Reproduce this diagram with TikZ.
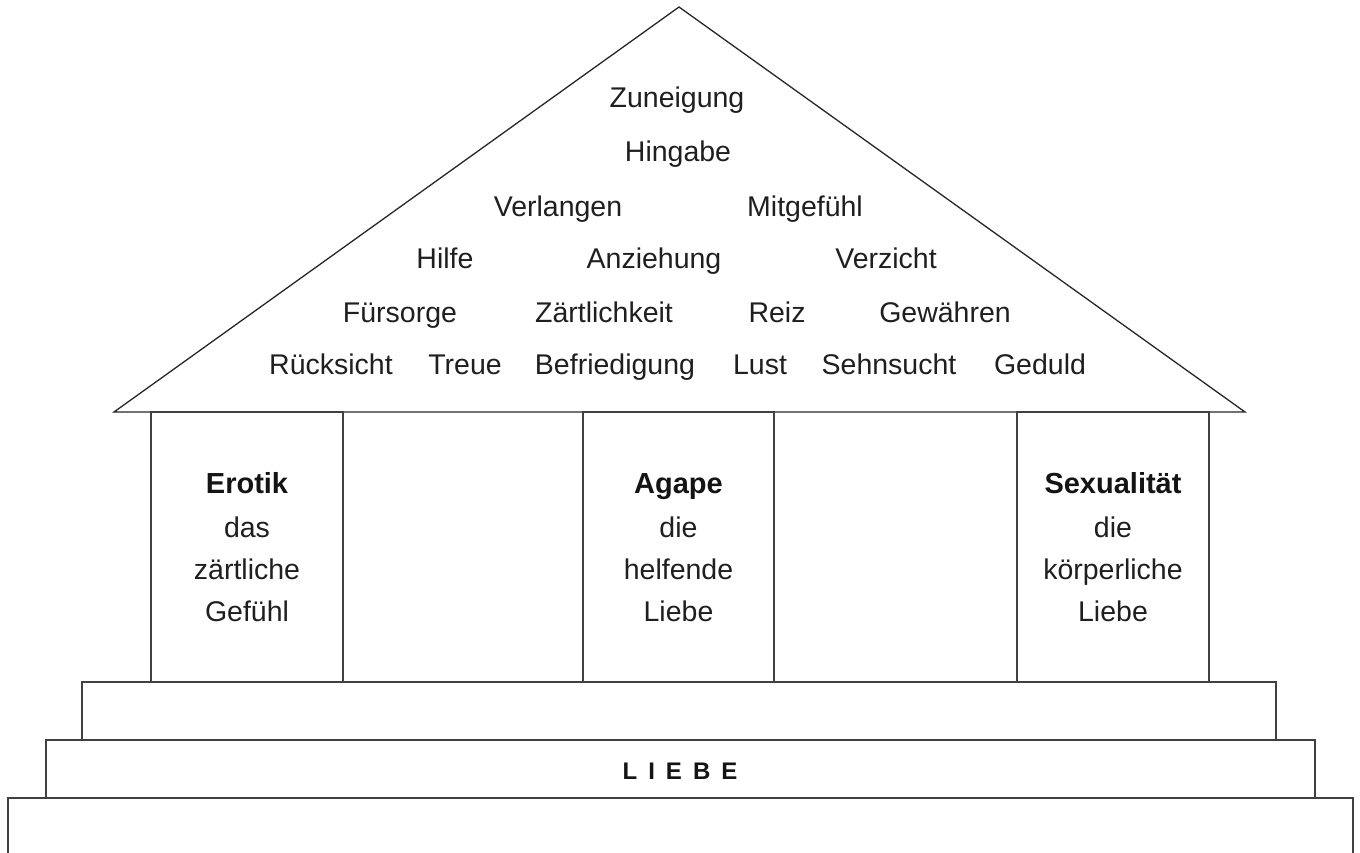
\documentclass[tikz,border=0pt]{standalone}
\usepackage{fontspec}
\setmainfont{Liberation Sans}
\begin{document}
\begin{tikzpicture}[x=1pt,y=-1pt,
  wordnode/.style={anchor=base,inner sep=0pt,text=black!88,font=\fontsize{28.5pt}{32pt}\selectfont},
  headnode/.style={anchor=base,inner sep=0pt,text=black!92,font=\fontsize{29pt}{32pt}\selectfont\bfseries},
  roofline/.style={draw=black!85,line width=1.3pt,line join=miter},
  partline/.style={draw=black!75,line width=1.7pt}]
\useasboundingbox (0,0) rectangle (1360,852);
\clip (0,0) rectangle (1360,852);
% roof
\coordinate (apex) at (679,7);
\coordinate (rl) at (114,412);
\coordinate (rr) at (1245,412);
\draw[roofline] (rl) -- (apex) -- (rr) -- cycle;
% pillars
\draw[partline] (151,682) rectangle (343,412);
\draw[partline] (583,682) rectangle (774,412);
\draw[partline] (1017,682) rectangle (1209,412);
% steps
\draw[partline] (82,682) rectangle (1276,740);
\draw[partline] (46,740) rectangle (1315,798);
\draw[partline] (8,860) -- (8,798) -- (1353,798) -- (1353,860);
% roof words
\node[wordnode] (w1) at (677,107) {Zuneigung};
\node[wordnode] (w2) at (678,161) {Hingabe};
\node[wordnode] (w3) at (558,216) {Verlangen};
\node[wordnode] (w4) at (805,216) {Mitgefühl};
\node[wordnode] (w5) at (445,268) {Hilfe};
\node[wordnode] (w6) at (654,268) {Anziehung};
\node[wordnode] (w7) at (886,268) {Verzicht};
\node[wordnode] (w8) at (400,322) {Fürsorge};
\node[wordnode] (w9) at (604,322) {Zärtlichkeit};
\node[wordnode] (w10) at (777,322) {Reiz};
\node[wordnode] (w11) at (945,322) {Gewähren};
\node[wordnode] (w12) at (331,374) {Rücksicht};
\node[wordnode] (w13) at (465,374) {Treue};
\node[wordnode] (w14) at (615,374) {Befriedigung};
\node[wordnode] (w15) at (760,374) {Lust};
\node[wordnode] (w16) at (889,374) {Sehnsucht};
\node[wordnode] (w17) at (1040,374) {Geduld};
% pillar texts
\node[headnode] (e1) at (247,493) {Erotik};
\node[wordnode] (e2) at (247,537) {das};
\node[wordnode] (e3) at (247,579) {zärtliche};
\node[wordnode] (e4) at (247,621) {Gefühl};
\node[headnode] (a1) at (678.5,493) {Agape};
\node[wordnode] (a2) at (678.5,537) {die};
\node[wordnode] (a3) at (678.5,579) {helfende};
\node[wordnode] (a4) at (678.5,621) {Liebe};
\node[headnode] (s1) at (1113,493) {Sexualität};
\node[wordnode] (s2) at (1113,537) {die};
\node[wordnode] (s3) at (1113,579) {körperliche};
\node[wordnode] (s4) at (1113,621) {Liebe};
% base label
\node[anchor=base,inner sep=0pt,text=black!92,font=\fontsize{24pt}{28pt}\selectfont\bfseries] (liebe) at (680,779) {L\kern11pt I\kern11pt E\kern11pt B\kern11pt E};
\end{tikzpicture}
\end{document}
